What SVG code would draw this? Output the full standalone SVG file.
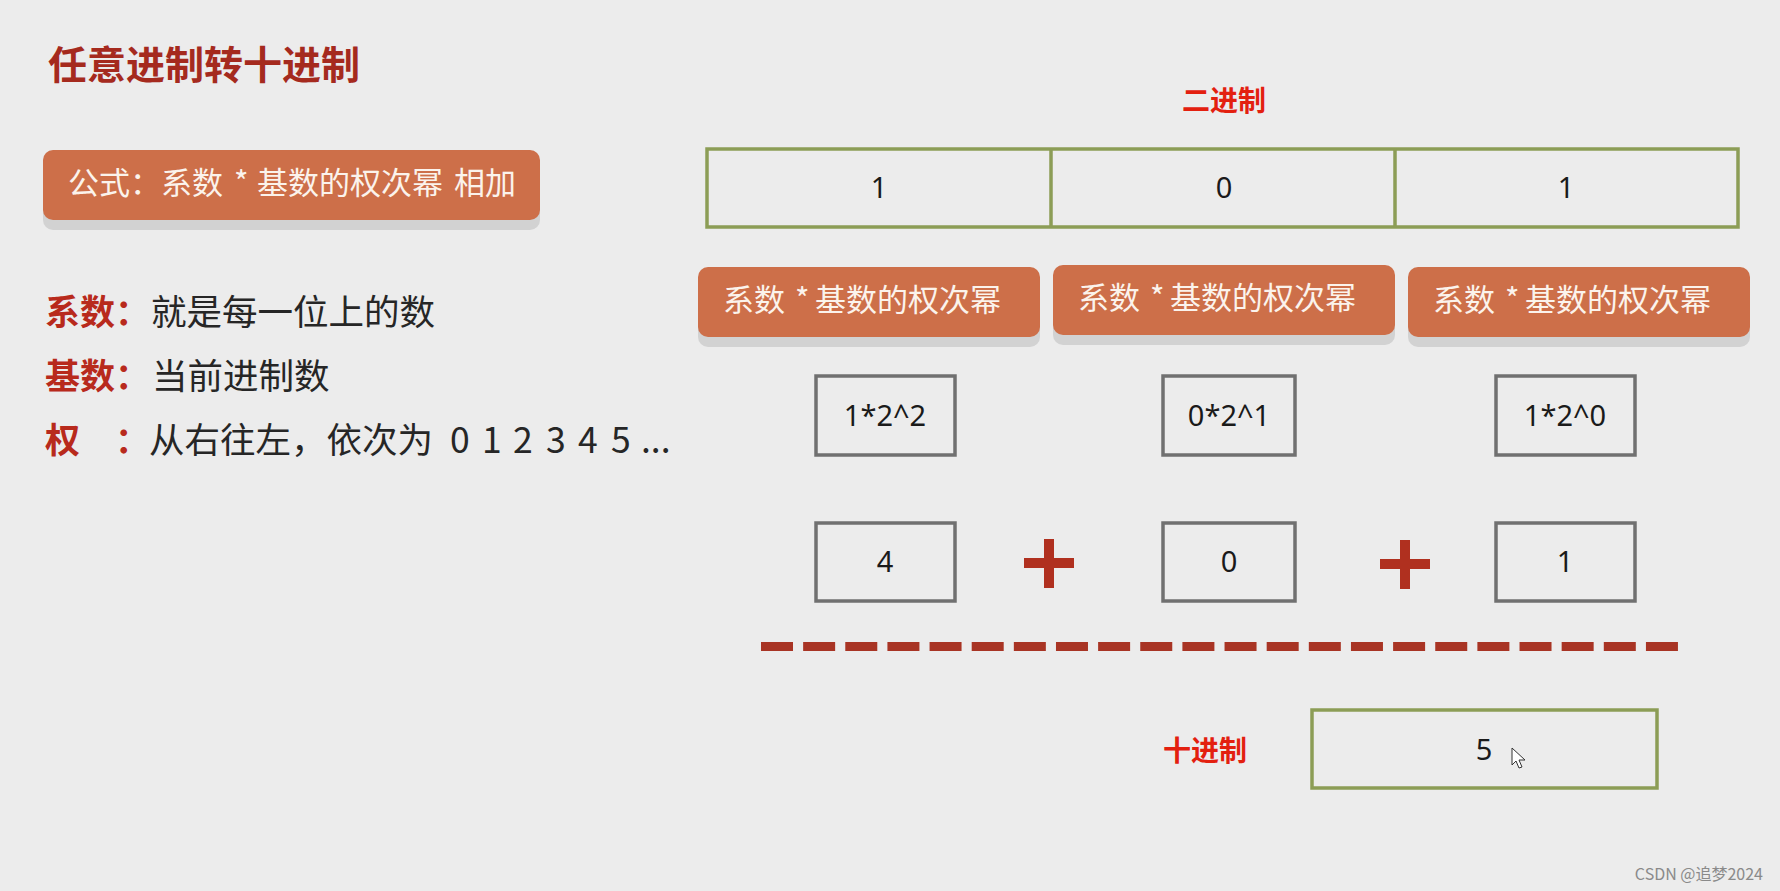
<svg xmlns="http://www.w3.org/2000/svg" width="1780" height="891" viewBox="0 0 1780 891">
  <defs>
    <style>
      .cjk { font-family: "Noto Sans CJK SC", "Noto Sans", "Liberation Sans", sans-serif; }
      .title { font-size: 39px; font-weight: bold; fill: #a52a1e; }
      .lbl { font-size: 35px; font-weight: bold; fill: #b82a1c; }
      .desc { font-size: 35.5px; fill: #262626; }
      .btn { fill: #cd6f49; }
      .btnshadow { fill: #d2d2d2; }
      .btntext { font-size: 31px; fill: #fbf3ec; }
      .green { fill: none; stroke: #8c9d56; stroke-width: 3.5; }
      .gray { fill: none; stroke: #707070; stroke-width: 3.5; }
      .num { font-family: "Noto Sans", "Liberation Sans", sans-serif; font-size: 29px; fill: #1a1a1a; text-anchor: middle; }
      .red { font-size: 28px; font-weight: bold; fill: #e3200f; text-anchor: middle; }
      .plus { fill: #b0301f; }
    </style>
  </defs>
  <rect x="0" y="0" width="1780" height="891" fill="#ececec"/>

  <g id="title">
    <text class="cjk title" x="48" y="79">任意进制转十进制</text>
  </g>

  <g id="formula">
    <rect class="btnshadow" x="43" y="159" width="497" height="71" rx="10"/>
    <rect class="btn" x="43" y="150" width="497" height="70" rx="10"/>
    <text class="cjk btntext" y="194"><tspan x="68">公式：系数</tspan><tspan x="234">*</tspan><tspan x="257">基数的权次幂</tspan><tspan x="454">相加</tspan></text>
  </g>

  <g id="definitions">
    <text class="cjk lbl" x="45" y="325">系数：</text>
    <text class="cjk desc" x="151" y="325">就是每一位上的数</text>
    <text class="cjk lbl" x="45" y="389">基数：</text>
    <text class="cjk desc" x="152" y="389">当前进制数</text>
    <text class="cjk lbl" x="45" y="453">权</text>
    <text class="cjk lbl" x="115" y="453">：</text>
    <text class="cjk desc" y="453"><tspan x="149">从右往左，依次为</tspan><tspan x="450">0</tspan><tspan x="482">1</tspan><tspan x="513">2</tspan><tspan x="546">3</tspan><tspan x="578">4</tspan><tspan x="611">5</tspan><tspan x="641">...</tspan></text>
  </g>

  <g id="binary-label">
    <text class="cjk red" x="1224" y="111">二进制</text>
  </g>

  <g id="binary-digits">
    <rect class="green" x="707" y="149" width="1031" height="78"/>
    <line class="green" x1="1051" y1="149" x2="1051" y2="227"/>
    <line class="green" x1="1395" y1="149" x2="1395" y2="227"/>
    <text class="num" x="879" y="198">1</text>
    <text class="num" x="1224" y="198">0</text>
    <text class="num" x="1566" y="198">1</text>
  </g>

  <g id="term-1">
    <rect class="btnshadow" x="698" y="276" width="342" height="71" rx="10"/>
    <rect class="btn" x="698" y="267" width="342" height="70" rx="10"/>
    <text class="cjk btntext" y="311"><tspan x="723">系数</tspan><tspan x="795">*</tspan><tspan x="815">基数的权次幂</tspan></text>
  </g>
  <g id="term-2">
    <rect class="btnshadow" x="1053" y="274" width="342" height="71" rx="10"/>
    <rect class="btn" x="1053" y="265" width="342" height="70" rx="10"/>
    <text class="cjk btntext" y="309"><tspan x="1078">系数</tspan><tspan x="1150">*</tspan><tspan x="1170">基数的权次幂</tspan></text>
  </g>
  <g id="term-3">
    <rect class="btnshadow" x="1408" y="276" width="342" height="71" rx="10"/>
    <rect class="btn" x="1408" y="267" width="342" height="70" rx="10"/>
    <text class="cjk btntext" y="311"><tspan x="1433">系数</tspan><tspan x="1505">*</tspan><tspan x="1525">基数的权次幂</tspan></text>
  </g>

  <g id="power-1">
    <rect class="gray" x="816" y="376" width="139" height="79"/>
    <text class="num" x="885" y="426">1*2^2</text>
  </g>
  <g id="power-2">
    <rect class="gray" x="1163" y="376" width="132" height="79"/>
    <text class="num" x="1229" y="426">0*2^1</text>
  </g>
  <g id="power-3">
    <rect class="gray" x="1496" y="376" width="139" height="79"/>
    <text class="num" x="1565" y="426">1*2^0</text>
  </g>

  <g id="value-1">
    <rect class="gray" x="816" y="523" width="139" height="78"/>
    <text class="num" x="885" y="572">4</text>
  </g>
  <g id="plus-1">
    <rect class="plus" x="1024" y="558" width="50" height="10"/>
    <rect class="plus" x="1044" y="539" width="10" height="49"/>
  </g>
  <g id="value-2">
    <rect class="gray" x="1163" y="523" width="132" height="78"/>
    <text class="num" x="1229" y="572">0</text>
  </g>
  <g id="plus-2">
    <rect class="plus" x="1380" y="559" width="50" height="10"/>
    <rect class="plus" x="1400" y="540" width="10" height="49"/>
  </g>
  <g id="value-3">
    <rect class="gray" x="1496" y="523" width="139" height="78"/>
    <text class="num" x="1565" y="572">1</text>
  </g>

  <g id="connectors">
    <line x1="761" y1="646.5" x2="1679" y2="646.5" stroke="#a83424" stroke-width="9" stroke-dasharray="32 10.14"/>
  </g>

  <g id="decimal">
    <text class="cjk red" x="1205" y="761">十进制</text>
    <rect class="green" x="1312" y="710" width="345" height="78"/>
    <text class="num" x="1484" y="760">5</text>
    <path d="M1512 748 L1512 765 L1516 761 L1519 768 L1522 767 L1519 760 L1525 760 Z" fill="#ffffff" stroke="#333333" stroke-width="1"/>
  </g>

  <g id="watermark">
    <text class="cjk" x="1763" y="880" font-size="16" fill="#8a8a8a" text-anchor="end">CSDN @追梦2024</text>
  </g>
</svg>
